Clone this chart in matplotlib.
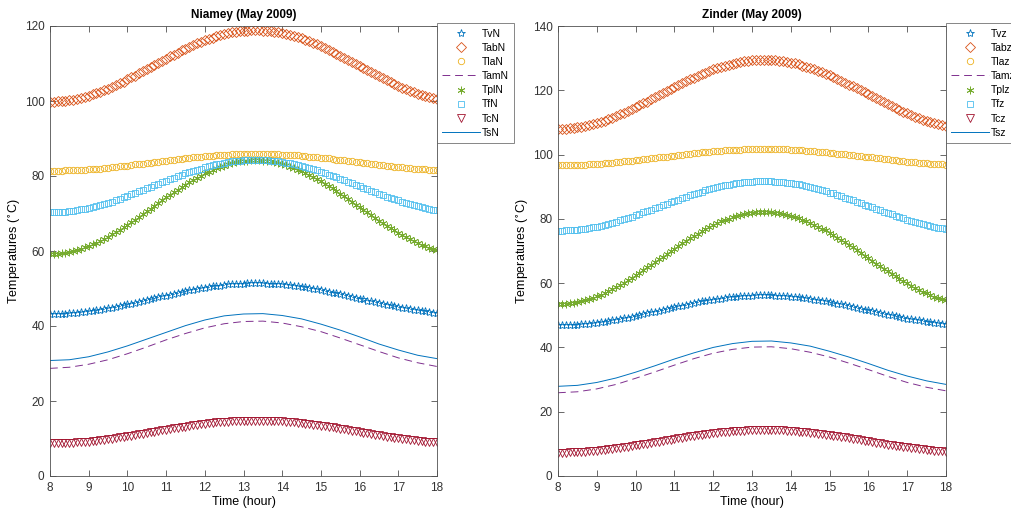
import matplotlib
matplotlib.use("Agg")
import matplotlib.pyplot as plt

plt.rcParams.update({
    "font.family": ["Liberation Sans", "DejaVu Sans"],
    "font.size": 8,
    "axes.edgecolor": "#505050",
    "axes.linewidth": 0.6,
    "xtick.color": "#505050",
    "ytick.color": "#505050",
    "xtick.labelcolor": "#333333",
    "ytick.labelcolor": "#333333",
})

# ---- MATLAB default colour order ------------------------------------------
C_BLUE   = "#0072BD"
C_ORANGE = "#D95319"
C_YELLOW = "#EDB120"
C_PURPLE = "#7E2F8E"
C_GREEN  = "#77AC30"
C_CYAN   = "#4DBEEE"
C_RED    = "#A2142F"

# ---- time axes (hour) ------------------------------------------------------
HOURS = [8.0, 8.1, 8.2, 8.3, 8.4, 8.5, 8.6, 8.7, 8.8, 8.9,
         9.0, 9.1, 9.2, 9.3, 9.4, 9.5, 9.6, 9.7, 9.8, 9.9,
         10.0, 10.1, 10.2, 10.3, 10.4, 10.5, 10.6, 10.7, 10.8, 10.9,
         11.0, 11.1, 11.2, 11.3, 11.4, 11.5, 11.6, 11.7, 11.8, 11.9,
         12.0, 12.1, 12.2, 12.3, 12.4, 12.5, 12.6, 12.7, 12.8, 12.9,
         13.0, 13.1, 13.2, 13.3, 13.4, 13.5, 13.6, 13.7, 13.8, 13.9,
         14.0, 14.1, 14.2, 14.3, 14.4, 14.5, 14.6, 14.7, 14.8, 14.9,
         15.0, 15.1, 15.2, 15.3, 15.4, 15.5, 15.6, 15.7, 15.8, 15.9,
         16.0, 16.1, 16.2, 16.3, 16.4, 16.5, 16.6, 16.7, 16.8, 16.9,
         17.0, 17.1, 17.2, 17.3, 17.4, 17.5, 17.6, 17.7, 17.8, 17.9,
         18.0]
LINE_HOURS = [8.0, 8.5, 9.0, 9.5, 10.0, 10.5, 11.0, 11.5, 12.0, 12.5, 13.0,
              13.5, 14.0, 14.5, 15.0, 15.5, 16.0, 16.5, 17.0, 17.5, 18.0]

# ---- Niamey ----------------------------------------------------------------
TvN = [43.2, 43.2, 43.2, 43.3, 43.3, 43.4, 43.5, 43.5, 43.7, 43.8,
       43.9, 44.0, 44.2, 44.4, 44.5, 44.7, 44.9, 45.1, 45.3, 45.5,
       45.8, 46.0, 46.2, 46.5, 46.7, 46.9, 47.2, 47.4, 47.7, 47.9,
       48.1, 48.4, 48.6, 48.8, 49.1, 49.3, 49.5, 49.7, 49.9, 50.1,
       50.2, 50.4, 50.6, 50.7, 50.8, 50.9, 51.1, 51.1, 51.2, 51.3,
       51.3, 51.4, 51.4, 51.4, 51.4, 51.4, 51.3, 51.3, 51.2, 51.2,
       51.1, 51.0, 50.9, 50.7, 50.6, 50.4, 50.3, 50.1, 49.9, 49.8,
       49.6, 49.4, 49.1, 48.9, 48.7, 48.5, 48.2, 48.0, 47.8, 47.5,
       47.3, 47.1, 46.8, 46.6, 46.4, 46.1, 45.9, 45.7, 45.5, 45.3,
       45.0, 44.8, 44.7, 44.5, 44.3, 44.2, 44.0, 43.9, 43.7, 43.6,
       43.5]
TabN = [99.8, 99.8, 99.9, 100.0, 100.1, 100.2, 100.4, 100.6, 100.9, 101.1,
        101.4, 101.8, 102.1, 102.5, 102.9, 103.3, 103.8, 104.3, 104.7, 105.2,
        105.8, 106.3, 106.8, 107.4, 107.9, 108.5, 109.1, 109.6, 110.2, 110.8,
        111.3, 111.9, 112.4, 112.9, 113.5, 114.0, 114.5, 114.9, 115.4, 115.8,
        116.2, 116.6, 116.9, 117.3, 117.6, 117.9, 118.1, 118.3, 118.5, 118.6,
        118.7, 118.8, 118.9, 118.9, 118.9, 118.8, 118.7, 118.7, 118.5, 118.3,
        118.1, 117.9, 117.6, 117.3, 117.0, 116.7, 116.3, 115.9, 115.5, 115.1,
        114.6, 114.1, 113.6, 113.1, 112.6, 112.1, 111.5, 111.0, 110.5, 109.9,
        109.4, 108.8, 108.2, 107.7, 107.2, 106.6, 106.1, 105.6, 105.1, 104.6,
        104.1, 103.6, 103.2, 102.8, 102.4, 102.0, 101.7, 101.4, 101.1, 100.8,
        100.6]
TlaN = [81.4, 81.4, 81.4, 81.4, 81.5, 81.5, 81.5, 81.6, 81.6, 81.7,
        81.8, 81.9, 81.9, 82.0, 82.1, 82.2, 82.3, 82.4, 82.6, 82.7,
        82.8, 82.9, 83.1, 83.2, 83.3, 83.5, 83.6, 83.7, 83.8, 84.0,
        84.1, 84.2, 84.4, 84.5, 84.6, 84.7, 84.9, 85.0, 85.1, 85.2,
        85.3, 85.4, 85.4, 85.5, 85.6, 85.7, 85.7, 85.8, 85.8, 85.8,
        85.9, 85.9, 85.9, 85.9, 85.9, 85.9, 85.9, 85.8, 85.8, 85.8,
        85.7, 85.7, 85.6, 85.5, 85.5, 85.4, 85.3, 85.2, 85.1, 85.0,
        84.9, 84.8, 84.7, 84.5, 84.4, 84.3, 84.2, 84.0, 83.9, 83.8,
        83.7, 83.5, 83.4, 83.3, 83.1, 83.0, 82.9, 82.8, 82.6, 82.5,
        82.4, 82.3, 82.2, 82.1, 82.0, 81.9, 81.8, 81.8, 81.7, 81.6,
        81.6]
TamN = [28.7, 29.0, 29.8, 31.0, 32.6, 34.4, 36.3, 38.0, 39.5, 40.6, 41.2,
        41.3, 40.8, 39.8, 38.5, 36.8, 35.0, 33.2, 31.5, 30.2, 29.2]
TplN = [59.2, 59.2, 59.3, 59.4, 59.5, 59.8, 60.0, 60.3, 60.6, 61.0,
        61.3, 61.8, 62.2, 62.7, 63.3, 63.8, 64.4, 65.0, 65.7, 66.3,
        67.0, 67.7, 68.4, 69.1, 69.9, 70.6, 71.3, 72.1, 72.8, 73.6,
        74.3, 75.0, 75.7, 76.4, 77.1, 77.7, 78.4, 79.0, 79.6, 80.1,
        80.7, 81.2, 81.6, 82.1, 82.5, 82.8, 83.2, 83.4, 83.7, 83.9,
        84.0, 84.1, 84.2, 84.2, 84.2, 84.1, 84.0, 83.9, 83.7, 83.5,
        83.2, 82.9, 82.5, 82.2, 81.7, 81.3, 80.8, 80.3, 79.7, 79.2,
        78.6, 78.0, 77.3, 76.7, 76.0, 75.3, 74.6, 73.9, 73.2, 72.4,
        71.7, 71.0, 70.3, 69.5, 68.8, 68.1, 67.4, 66.8, 66.1, 65.5,
        64.8, 64.2, 63.7, 63.1, 62.6, 62.1, 61.7, 61.3, 60.9, 60.5,
        60.2]
TfN = [70.3, 70.3, 70.4, 70.4, 70.5, 70.6, 70.7, 70.9, 71.1, 71.3,
       71.5, 71.7, 72.0, 72.3, 72.6, 72.9, 73.2, 73.6, 73.9, 74.3,
       74.7, 75.1, 75.5, 75.9, 76.3, 76.7, 77.1, 77.5, 77.9, 78.3,
       78.7, 79.1, 79.5, 79.9, 80.3, 80.7, 81.0, 81.4, 81.7, 82.0,
       82.3, 82.6, 82.9, 83.1, 83.3, 83.5, 83.7, 83.9, 84.0, 84.1,
       84.2, 84.3, 84.3, 84.3, 84.3, 84.3, 84.2, 84.1, 84.0, 83.9,
       83.7, 83.6, 83.4, 83.2, 82.9, 82.7, 82.4, 82.1, 81.8, 81.5,
       81.2, 80.8, 80.4, 80.1, 79.7, 79.3, 78.9, 78.5, 78.1, 77.7,
       77.3, 76.9, 76.5, 76.1, 75.7, 75.3, 74.9, 74.5, 74.2, 73.8,
       73.5, 73.1, 72.8, 72.5, 72.2, 71.9, 71.7, 71.4, 71.2, 71.0,
       70.9]
TcN = [8.7, 8.7, 8.7, 8.7, 8.8, 8.8, 8.9, 9.0, 9.0, 9.1,
       9.2, 9.3, 9.4, 9.6, 9.7, 9.8, 10.0, 10.1, 10.3, 10.4,
       10.6, 10.8, 10.9, 11.1, 11.3, 11.5, 11.7, 11.8, 12.0, 12.2,
       12.4, 12.6, 12.7, 12.9, 13.1, 13.2, 13.4, 13.5, 13.7, 13.8,
       13.9, 14.1, 14.2, 14.3, 14.4, 14.5, 14.5, 14.6, 14.7, 14.7,
       14.8, 14.8, 14.8, 14.8, 14.8, 14.8, 14.8, 14.7, 14.7, 14.6,
       14.6, 14.5, 14.4, 14.3, 14.2, 14.1, 14.0, 13.8, 13.7, 13.6,
       13.4, 13.3, 13.1, 13.0, 12.8, 12.6, 12.5, 12.3, 12.1, 11.9,
       11.8, 11.6, 11.4, 11.2, 11.0, 10.9, 10.7, 10.5, 10.4, 10.2,
       10.1, 9.9, 9.8, 9.7, 9.5, 9.4, 9.3, 9.2, 9.1, 9.0,
       9.0]
TsN = [30.8, 31.0, 31.8, 33.1, 34.7, 36.5, 38.3, 40.1, 41.6, 42.7, 43.2,
       43.3, 42.8, 41.9, 40.5, 38.9, 37.1, 35.2, 33.6, 32.2, 31.3]

# ---- Zinder ----------------------------------------------------------------
Tvz = [46.9, 46.9, 46.9, 47.0, 47.0, 47.1, 47.2, 47.3, 47.4, 47.6,
       47.7, 47.9, 48.0, 48.2, 48.4, 48.6, 48.8, 49.1, 49.3, 49.6,
       49.8, 50.1, 50.3, 50.6, 50.9, 51.1, 51.4, 51.7, 52.0, 52.2,
       52.5, 52.8, 53.0, 53.3, 53.5, 53.8, 54.0, 54.3, 54.5, 54.7,
       54.9, 55.1, 55.2, 55.4, 55.6, 55.7, 55.8, 55.9, 56.0, 56.1,
       56.1, 56.2, 56.2, 56.2, 56.2, 56.2, 56.1, 56.1, 56.0, 55.9,
       55.8, 55.7, 55.6, 55.4, 55.3, 55.1, 54.9, 54.7, 54.5, 54.3,
       54.1, 53.9, 53.6, 53.4, 53.1, 52.9, 52.6, 52.4, 52.1, 51.8,
       51.6, 51.3, 51.0, 50.7, 50.5, 50.2, 50.0, 49.7, 49.5, 49.2,
       49.0, 48.8, 48.6, 48.4, 48.2, 48.0, 47.8, 47.7, 47.5, 47.4,
       47.3]
Tabz = [108.0, 108.0, 108.1, 108.2, 108.3, 108.5, 108.7, 108.9, 109.2, 109.5,
        109.8, 110.2, 110.6, 111.0, 111.5, 112.0, 112.5, 113.0, 113.6, 114.1,
        114.7, 115.3, 115.9, 116.5, 117.2, 117.8, 118.4, 119.1, 119.7, 120.3,
        121.0, 121.6, 122.2, 122.8, 123.4, 123.9, 124.5, 125.0, 125.5, 126.0,
        126.5, 126.9, 127.3, 127.7, 128.0, 128.3, 128.6, 128.8, 129.0, 129.2,
        129.3, 129.4, 129.5, 129.5, 129.5, 129.4, 129.3, 129.2, 129.0, 128.9,
        128.6, 128.4, 128.1, 127.7, 127.4, 127.0, 126.6, 126.1, 125.7, 125.2,
        124.7, 124.1, 123.6, 123.0, 122.4, 121.8, 121.2, 120.6, 120.0, 119.4,
        118.8, 118.1, 117.5, 116.9, 116.3, 115.7, 115.1, 114.5, 113.9, 113.4,
        112.8, 112.3, 111.8, 111.4, 110.9, 110.5, 110.1, 109.8, 109.4, 109.1,
        108.9]
Tlaz = [96.7, 96.7, 96.7, 96.7, 96.8, 96.8, 96.9, 96.9, 97.0, 97.1,
        97.1, 97.2, 97.3, 97.4, 97.5, 97.6, 97.7, 97.9, 98.0, 98.1,
        98.3, 98.4, 98.5, 98.7, 98.8, 99.0, 99.1, 99.3, 99.4, 99.6,
        99.7, 99.9, 100.0, 100.1, 100.3, 100.4, 100.5, 100.7, 100.8, 100.9,
        101.0, 101.1, 101.2, 101.3, 101.4, 101.4, 101.5, 101.5, 101.6, 101.6,
        101.7, 101.7, 101.7, 101.7, 101.7, 101.7, 101.7, 101.6, 101.6, 101.6,
        101.5, 101.4, 101.4, 101.3, 101.2, 101.1, 101.0, 100.9, 100.8, 100.7,
        100.6, 100.5, 100.3, 100.2, 100.1, 99.9, 99.8, 99.6, 99.5, 99.3,
        99.2, 99.1, 98.9, 98.8, 98.6, 98.5, 98.3, 98.2, 98.1, 98.0,
        97.8, 97.7, 97.6, 97.5, 97.4, 97.3, 97.2, 97.1, 97.0, 97.0,
        96.9]
Tamz = [25.9, 26.2, 27.1, 28.5, 30.4, 32.4, 34.5, 36.5, 38.2, 39.4, 40.1,
        40.2, 39.6, 38.5, 37.0, 35.1, 33.1, 31.0, 29.1, 27.6, 26.5]
Tplz = [53.5, 53.5, 53.6, 53.7, 53.9, 54.1, 54.4, 54.7, 55.1, 55.5,
        55.9, 56.4, 57.0, 57.5, 58.2, 58.8, 59.5, 60.2, 60.9, 61.7,
        62.4, 63.2, 64.0, 64.9, 65.7, 66.5, 67.4, 68.2, 69.1, 69.9,
        70.7, 71.6, 72.4, 73.2, 73.9, 74.7, 75.4, 76.1, 76.8, 77.4,
        78.1, 78.6, 79.2, 79.7, 80.1, 80.5, 80.9, 81.2, 81.5, 81.7,
        81.9, 82.0, 82.1, 82.1, 82.1, 82.0, 81.9, 81.7, 81.5, 81.2,
        80.9, 80.6, 80.2, 79.8, 79.3, 78.8, 78.2, 77.6, 77.0, 76.4,
        75.7, 75.0, 74.2, 73.5, 72.7, 71.9, 71.1, 70.3, 69.5, 68.6,
        67.8, 67.0, 66.1, 65.3, 64.5, 63.7, 62.9, 62.1, 61.4, 60.7,
        59.9, 59.2, 58.6, 58.0, 57.4, 56.8, 56.3, 55.8, 55.4, 55.0,
        54.7]
Tfz = [76.3, 76.3, 76.4, 76.4, 76.5, 76.6, 76.8, 76.9, 77.1, 77.4,
       77.6, 77.9, 78.2, 78.5, 78.8, 79.1, 79.5, 79.9, 80.3, 80.7,
       81.1, 81.5, 82.0, 82.4, 82.9, 83.3, 83.8, 84.2, 84.7, 85.1,
       85.6, 86.0, 86.5, 86.9, 87.3, 87.7, 88.1, 88.5, 88.9, 89.2,
       89.5, 89.8, 90.1, 90.4, 90.6, 90.9, 91.1, 91.2, 91.4, 91.5,
       91.6, 91.7, 91.7, 91.7, 91.7, 91.7, 91.6, 91.5, 91.4, 91.2,
       91.1, 90.9, 90.7, 90.4, 90.2, 89.9, 89.6, 89.3, 88.9, 88.6,
       88.2, 87.9, 87.5, 87.0, 86.6, 86.2, 85.8, 85.3, 84.9, 84.4,
       84.0, 83.6, 83.1, 82.7, 82.2, 81.8, 81.4, 81.0, 80.6, 80.2,
       79.8, 79.4, 79.1, 78.7, 78.4, 78.1, 77.8, 77.6, 77.3, 77.1,
       76.9]
Tcz = [7.3, 7.3, 7.3, 7.4, 7.4, 7.5, 7.5, 7.6, 7.7, 7.8,
       7.9, 8.0, 8.1, 8.3, 8.4, 8.6, 8.8, 8.9, 9.1, 9.3,
       9.5, 9.7, 9.9, 10.1, 10.3, 10.5, 10.7, 10.9, 11.1, 11.3,
       11.5, 11.7, 11.9, 12.1, 12.3, 12.5, 12.7, 12.8, 13.0, 13.2,
       13.3, 13.5, 13.6, 13.7, 13.8, 13.9, 14.0, 14.1, 14.1, 14.2,
       14.2, 14.3, 14.3, 14.3, 14.3, 14.3, 14.2, 14.2, 14.2, 14.1,
       14.0, 13.9, 13.8, 13.7, 13.6, 13.5, 13.3, 13.2, 13.0, 12.9,
       12.7, 12.6, 12.4, 12.2, 12.0, 11.8, 11.6, 11.4, 11.2, 11.0,
       10.8, 10.6, 10.4, 10.2, 10.0, 9.8, 9.6, 9.4, 9.2, 9.1,
       8.9, 8.7, 8.6, 8.4, 8.3, 8.1, 8.0, 7.9, 7.8, 7.7,
       7.6]
Tsz = [27.9, 28.2, 29.1, 30.5, 32.3, 34.3, 36.4, 38.3, 40.0, 41.2, 41.9,
       42.0, 41.4, 40.4, 38.8, 37.0, 35.0, 32.9, 31.1, 29.6, 28.5]

ASTERISK = (6, 2, 0)


def panel(ax, title, names, series, ymax):
    tv, tab, tla, tam, tpl, tf, tc, ts = series
    mk = dict(linestyle="none", mfc="none", mew=0.6)
    ax.plot(HOURS, tv, marker="*", ms=6.0, mec=C_BLUE, label=names[0], **mk)
    ax.plot(HOURS, tab, marker="D", ms=4.8, mec=C_ORANGE, label=names[1], **mk)
    ax.plot(HOURS, tla, marker="o", ms=4.6, mec=C_YELLOW, label=names[2], **mk)
    ax.plot(LINE_HOURS, tam, color=C_PURPLE, lw=0.7, dashes=(8, 5), label=names[3])
    ax.plot(HOURS, tpl, marker=ASTERISK, ms=5.5, mec=C_GREEN, label=names[4], **mk)
    ax.plot(HOURS, tf, marker="s", ms=4.8, mec=C_CYAN, label=names[5], **mk)
    ax.plot(HOURS, tc, marker="v", ms=5.4, mec=C_RED, label=names[6], **mk)
    ax.plot(LINE_HOURS, ts, "-", color=C_BLUE, lw=0.7, label=names[7])

    ax.set_xlim(8, 18)
    ax.set_ylim(0, ymax)
    ax.set_xticks(range(8, 19))
    ax.set_yticks(range(0, ymax + 1, 20))
    ax.tick_params(direction="in", top=True, right=True, length=4, width=0.6,
                   labelsize=8.5, pad=4)
    ax.set_title(title, fontsize=8.5, fontweight="bold", pad=6)
    ax.set_xlabel("Time (hour)", fontsize=9, labelpad=2)
    ax.set_ylabel("Temperatures ($^{\\circ}$C)", fontsize=9, labelpad=1)
    # the Zinder legend runs past the figure edge, as in the original
    leg = ax.legend(loc="upper left", bbox_to_anchor=(1.0, 1.006), fontsize=7.5,
                    frameon=True, fancybox=False, borderpad=0.5, labelspacing=0.4,
                    handlelength=3.6, handletextpad=0.2, borderaxespad=0.0,
                    numpoints=1)
    leg.get_frame().set_edgecolor("#505050")
    leg.get_frame().set_linewidth(0.6)


fig = plt.figure(figsize=(10.11, 5.12), dpi=100)
ax1 = fig.add_axes([50 / 1011, 36 / 512, 387 / 1011, 450 / 512])
ax2 = fig.add_axes([558 / 1011, 36 / 512, 388 / 1011, 450 / 512])

panel(ax1, "Niamey (May 2009)",
      ["TvN", "TabN", "TlaN", "TamN", "TplN", "TfN", "TcN", "TsN"],
      [TvN, TabN, TlaN, TamN, TplN, TfN, TcN, TsN], 120)
panel(ax2, "Zinder (May 2009)",
      ["Tvz", "Tabz", "Tlaz", "Tamz", "Tplz", "Tfz", "Tcz", "Tsz"],
      [Tvz, Tabz, Tlaz, Tamz, Tplz, Tfz, Tcz, Tsz], 140)

fig.savefig("out.png", dpi=100)
